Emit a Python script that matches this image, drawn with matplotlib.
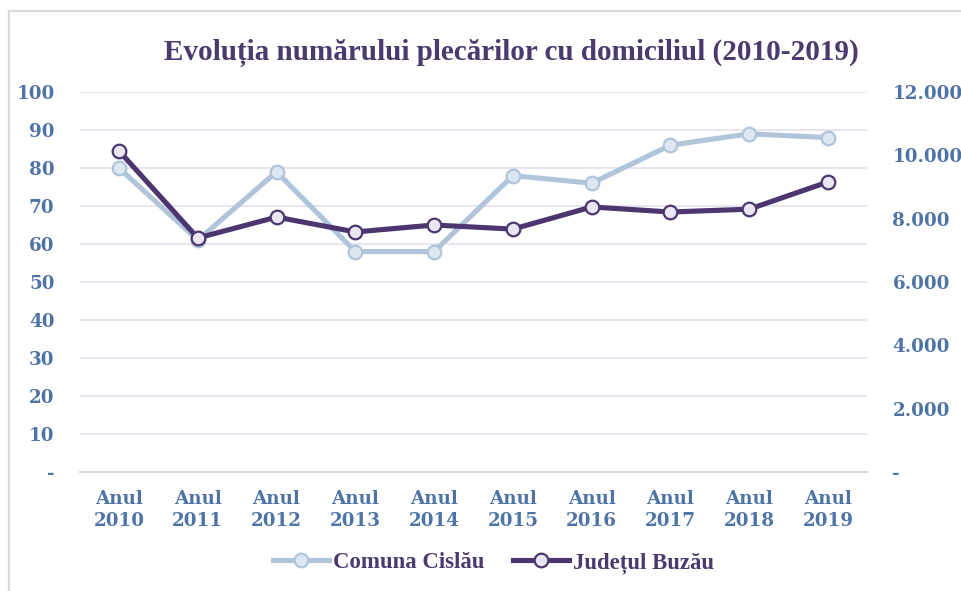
import matplotlib
matplotlib.use("Agg")
import matplotlib.pyplot as plt
from matplotlib.lines import Line2D
from matplotlib.ticker import FixedLocator, FuncFormatter

years = ["2010", "2011", "2012", "2013", "2014", "2015", "2016", "2017", "2018", "2019"]
categories = ["Anul\n" + y for y in years]
cislau = [80, 61, 79, 58, 58, 78, 76, 86, 89, 88]
buzau = [10140, 7390, 8050, 7580, 7800, 7670, 8370, 8210, 8300, 9160]
left_ticks = [0, 10, 20, 30, 40, 50, 60, 70, 80, 90, 100]
right_ticks = [0, 2000, 4000, 6000, 8000, 10000, 12000]

title = "Evoluția numărului plecărilor cu domiciliul (2010-2019)"
label_cislau = "Comuna Cislău"
label_buzau = "Județul Buzău"

FONT_T = ["Liberation Serif", "DejaVu Serif"]
FONT_K = ["DejaVu Serif", "Liberation Serif"]
plt.rcParams["font.family"] = FONT_K
plt.rcParams["font.weight"] = "bold"

tick_color = "#4E74A6"
title_color = "#4A3A6E"
c_cis_line = "#B0C4DA"
c_cis_face = "#DDE7F1"
c_buz_line = "#4B3670"
c_buz_face = "#E9E5F1"
grid_color = "#E6E3EF"

LW, MS, MEW = 3.7, 9.8, 1.6

W, H = 961, 591
fig = plt.figure(figsize=(W / 100, H / 100), dpi=100)
ax = fig.add_axes([79.6 / W, 1 - 472 / H, (867.4 - 79.6) / W, (472 - 92) / H])
ax2 = ax.twinx()

x = list(range(len(categories)))
ax.plot(x, cislau, color=c_cis_line, lw=LW, marker="o", ms=MS,
        mfc=c_cis_face, mec=c_cis_line, mew=MEW, zorder=3, solid_capstyle="round")
ax2.plot(x, buzau, color=c_buz_line, lw=LW, marker="o", ms=MS,
         mfc=c_buz_face, mec=c_buz_line, mew=MEW, zorder=3, solid_capstyle="round")

ax.set_xlim(-0.5, len(categories) - 0.5)
ax.set_ylim(0, 100)
ax2.set_ylim(0, 12000)
ax.yaxis.set_major_locator(FixedLocator(left_ticks))
ax2.yaxis.set_major_locator(FixedLocator(right_ticks))

def fmt_left(v, p):
    return "-" if v == 0 else f"{int(v)}"

def fmt_right(v, p):
    return "-" if v == 0 else f"{int(v):,}".replace(",", ".")

ax.yaxis.set_major_formatter(FuncFormatter(fmt_left))
ax2.yaxis.set_major_formatter(FuncFormatter(fmt_right))
ax.set_xticks(x)
ax.set_xticklabels(categories, linespacing=1.25)

for a in (ax, ax2):
    for s in a.spines.values():
        s.set_visible(False)
    a.tick_params(length=0, colors=tick_color, labelsize=13.2)
ax.spines["bottom"].set_visible(True)
ax.spines["bottom"].set_color("#D9D9D9")
ax.spines["bottom"].set_linewidth(1.5)
ax.tick_params(axis="y", pad=18)
ax2.tick_params(axis="y", pad=18)
ax.tick_params(axis="x", pad=13)
for lab in ax.get_yticklabels() + ax2.get_yticklabels() + ax.get_xticklabels():
    lab.set_fontweight("bold")

ax.grid(axis="y", color=grid_color, lw=1.3)
ax.set_axisbelow(True)

fig.text(511 / W, 1 - 53 / H, title, ha="center", va="center",
         fontsize=21, fontweight="bold", color=title_color, family=FONT_T)

handles = [
    Line2D([], [], color=c_cis_line, lw=LW, marker="o", ms=MS, mfc=c_cis_face, mec=c_cis_line, mew=MEW),
    Line2D([], [], color=c_buz_line, lw=LW, marker="o", ms=MS, mfc=c_buz_face, mec=c_buz_line, mew=MEW),
]
leg = fig.legend(handles, [label_cislau, label_buzau], loc="center", bbox_to_anchor=(493.5 / W, 1 - 563 / H),
                 ncol=2, frameon=False, handlelength=2.46, handletextpad=0.18, columnspacing=1.23,
                 borderpad=0, prop={"family": FONT_T, "weight": "bold", "size": 16.4})
for t in leg.get_texts():
    t.set_color(title_color)

# outer border (top and left)
fig.add_artist(Line2D([8.5 / W, 1.0], [1 - 10.5 / H, 1 - 10.5 / H], color="#D9D9D9", lw=1.6, transform=fig.transFigure))
fig.add_artist(Line2D([8.5 / W, 8.5 / W], [0, 1 - 10.5 / H], color="#D9D9D9", lw=1.6, transform=fig.transFigure))

fig.savefig("out.png", dpi=100)
